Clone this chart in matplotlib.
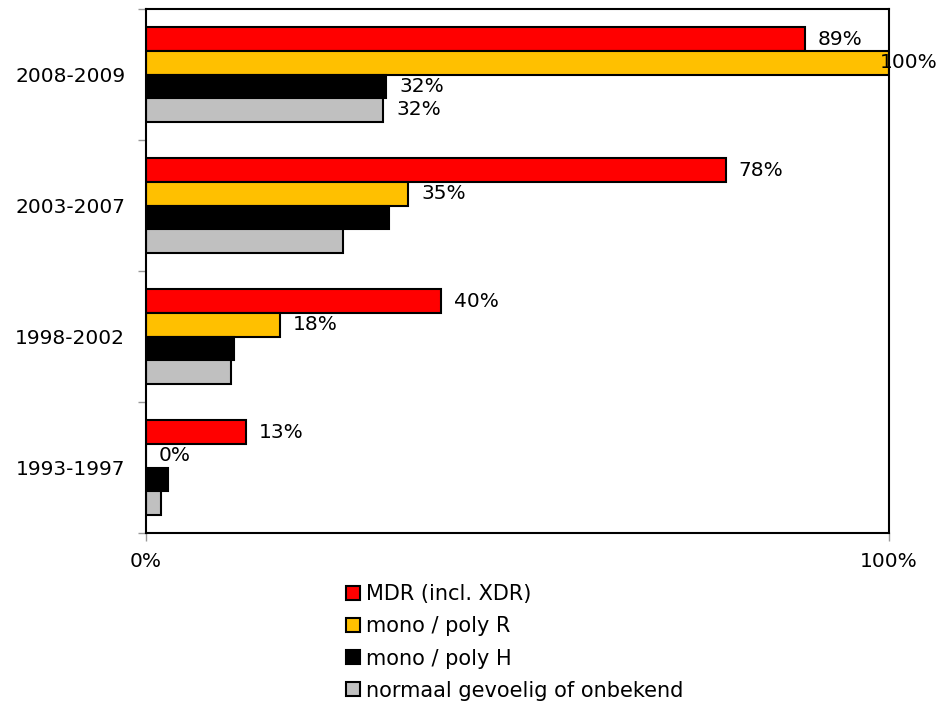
import numpy as np
import matplotlib.pyplot as plt
from matplotlib.patches import Patch

plt.rcParams["font.family"] = "DejaVu Sans"

########## DATA ########
periods = ["1993-1997", "1998-2002", "2003-2007", "2008-2009"]
series = ["MDR (incl. XDR)", "mono / poly R", "mono / poly H",
          "normaal gevoelig of onbekend"]
mdr = [0.135, 0.397, 0.78, 0.887]
poly_r = [0.0, 0.18, 0.353, 1.0]
poly_h = [0.03, 0.118, 0.327, 0.323]
normaal = [0.02, 0.114, 0.265, 0.319]

mdr_labels = ["13%", "40%", "78%", "89%"]
poly_r_labels = ["0%", "18%", "35%", "100%"]
poly_h_labels = ["", "", "", "32%"]
normaal_labels = ["", "", "", "32%"]
colors = ["#FF0000", "#FFC000", "#000000", "#C0C0C0"]
###### END DATA ########

fs = 14.5

fig = plt.figure(figsize=(9.4, 7.08), dpi=100)
ax = fig.add_axes([146 / 940, 1 - 533 / 708, (889 - 146) / 940, (533 - 9) / 708])

y = np.arange(len(periods))
h = 0.18
offsets = [1.5 * h, 0.5 * h, -0.5 * h, -1.5 * h]
values = [mdr, poly_r, poly_h, normaal]
labels = [mdr_labels, poly_r_labels, poly_h_labels, normaal_labels]

for vals, labs, off, col in zip(values, labels, offsets, colors):
    ax.barh(y + off, vals, height=h, color=col, edgecolor="black", linewidth=1.5)
    for yi, v, lab in zip(y, vals, labs):
        if not lab:
            continue
        # labels that would run off the chart get pulled back inside
        dx = 13 if v < 0.95 else -9
        ax.annotate(lab, (v, yi + off), xytext=(dx * 0.72, 0),
                    textcoords="offset points", va="center", ha="left",
                    fontsize=fs, clip_on=False)

ax.set_xlim(0, 1)
ax.set_ylim(-0.5, 3.5)
ax.set_xticks([0, 1])
ax.set_xticklabels(["0%", "100%"], fontsize=fs)
ax.set_yticks(y)
ax.set_yticklabels(periods, fontsize=fs)
ax.set_yticks(np.arange(-0.5, 4, 1), minor=True)
ax.tick_params(axis="y", which="major", length=0, pad=15)
ax.tick_params(axis="y", which="minor", length=6, color="#999999", width=1)
ax.tick_params(axis="x", which="major", length=6, color="#999999", width=1, pad=8)
for sp in ax.spines.values():
    sp.set_linewidth(1.5)

handles = [Patch(facecolor=c, edgecolor="black", linewidth=1.5) for c in colors]
fig.legend(handles, series, loc="upper left", bbox_to_anchor=(336 / 940, 1 - 574 / 708),
           frameon=False, fontsize=15, handlelength=0.65, handleheight=0.65,
           handletextpad=0.3, labelspacing=0.58, borderpad=0)

plt.savefig("out.png", dpi=100)
